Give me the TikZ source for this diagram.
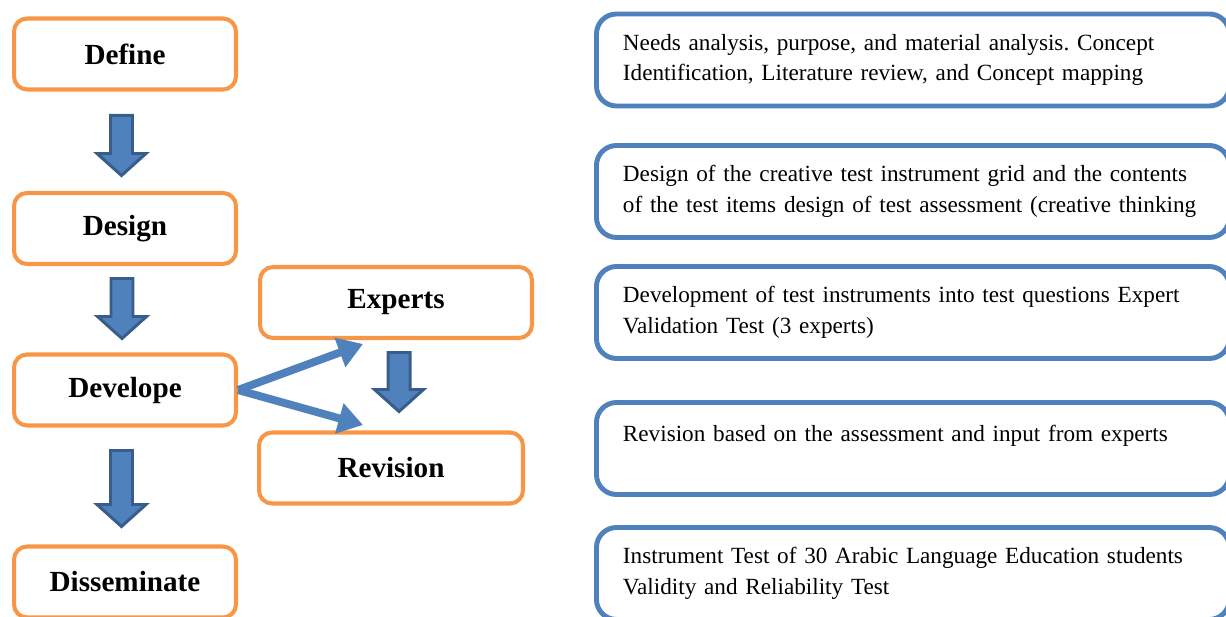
\documentclass[tikz,border=0pt]{standalone}
\usepackage{fontspec}
\setmainfont{Liberation Serif}
\frenchspacing
\hyphenpenalty=10000
\usetikzlibrary{arrows.meta}
\usetikzlibrary{calc}
\definecolor{boxorange}{HTML}{F79646}
\definecolor{boxblue}{HTML}{4F81BD}
\definecolor{arrowedge}{HTML}{385D8A}
\newcommand{\blockarrow}[2]{\draw[blockarrow] ($(#1)+(-11,0)$) -- ($(#1)+(11,0)$) -- ($(#2)+(11,-22)$) -- ($(#2)+(24.5,-22)$) -- (#2) -- ($(#2)+(-24.5,-22)$) -- ($(#2)+(-11,-22)$) -- cycle;}
\begin{document}
\begin{tikzpicture}[x=0.02cm,y=-0.02cm,
	stage/.style={draw=boxorange,line width=2.3pt,rounded corners=0.26cm,minimum height=1.42cm,font=\fontsize{16.6}{20}\selectfont\bfseries},
	descbox/.style={draw=boxblue,line width=2.8pt,rounded corners=0.4cm,anchor=west,minimum height=1.84cm,text width=11.6cm,inner xsep=0.53cm,align=left,font=\fontsize{13.2}{17.6}\selectfont},
	blockarrow/.style={fill=boxblue,draw=arrowedge,line width=1.7pt,line join=miter},
	thinarrow/.style={draw=boxblue,line width=4.5pt,-{Triangle[length=14pt,width=17pt]}}]
	\useasboundingbox (0,0) rectangle (1226,617);
	\clip (0,0) rectangle (1226,617);
			\node[stage,minimum width=4.44cm]  (define)      at (125,54)    {Define};
			\node[stage,minimum width=4.44cm]  (design)      at (125,228.5) {Design};
			\node[stage,minimum width=4.44cm]  (develope)    at (125,390)   {Develope};
			\node[stage,minimum width=4.44cm]  (disseminate) at (125,582)   {Disseminate};
			\node[stage,minimum width=5.44cm]  (experts)     at (396,302.5) {Experts};
			\node[stage,minimum width=5.28cm]  (revision)    at (391,468)   {Revision};
			\node[descbox] (d_define)   at (594,60)    {Needs analysis, purpose, and material analysis. Concept\\ Identification, Literature review, and Concept mapping};
			\node[descbox] (d_design)   at (594,191.5) {Design of the creative test instrument grid and the contents\\ of the test items design of test assessment (creative thinking};
			\node[descbox] (d_develope) at (594,312.5) {Development of test instruments into test questions Expert\\ Validation Test (3 experts)};
			\node[descbox] (d_revision) at (594,448.5) {Revision based on the assessment and input from experts\\ \mbox{}};
			\node[descbox] (d_dissem)   at (594,573.5) {Instrument Test of 30 Arabic Language Education students\\ Validity and Reliability Test};
			\coordinate (a1_top) at (121.5,115.5);	\coordinate (a1_tip) at (121.5,175.5);
			\coordinate (a2_top) at (122,278.5);	\coordinate (a2_tip) at (122,338.5);
			\coordinate (a3_top) at (121.5,450.5);	\coordinate (a3_tip) at (121.5,526.5);
			\coordinate (a4_top) at (399,352.5);	\coordinate (a4_tip) at (399,411.5);
			\blockarrow{a1_top}{a1_tip}
			\blockarrow{a2_top}{a2_tip}
			\blockarrow{a3_top}{a3_tip}
			\blockarrow{a4_top}{a4_tip}
			\coordinate (to_exp) at (363,344);
			\coordinate (to_rev) at (363,425);
			\draw[thinarrow] (develope.east) -- (to_exp);
			\draw[thinarrow] (develope.east) -- (to_rev);
\end{tikzpicture}
\end{document}
